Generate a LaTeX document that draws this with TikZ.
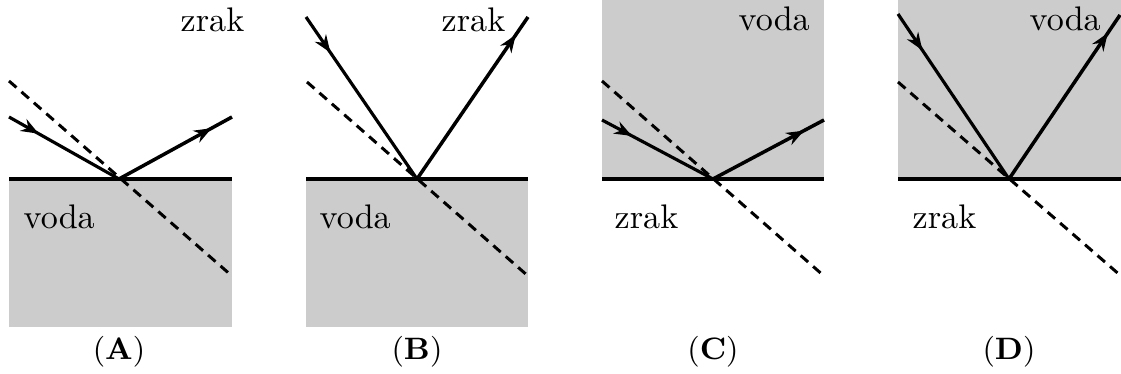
\documentclass[tikz,border=0pt]{standalone}
\usepackage{tikz}
\usetikzlibrary{arrows.meta,decorations.markings}
\definecolor{water}{HTML}{CCCCCC}
\definecolor{ink}{HTML}{000000}
\tikzset{
  medium/.style={fill=water,draw=none},
  surface/.style={draw=ink,line width=1.05pt},
  normalline/.style={draw=ink,line width=0.85pt,dash pattern=on 2.8pt off 1.9pt},
  inray/.style={draw=ink,line width=0.9pt,
    decoration={markings,mark=at position #1 with
      {\arrow{Stealth[length=5pt,width=3.8pt]}}},
    postaction={decorate}},
  inray/.default=0.27,
  outray/.style={draw=ink,line width=1pt,
    decoration={markings,mark=at position #1 with
      {\arrow{Stealth[length=5pt,width=3.8pt]}}},
    postaction={decorate}},
  outray/.default=0.85,
  medname/.style={font=\fontsize{9.7}{11}\selectfont,inner sep=0pt,
                  anchor=base west},
  panelcap/.style={font=\fontsize{8.8}{10}\selectfont,inner sep=0pt,anchor=base}
}

\begin{document}
\begin{tikzpicture}[x=0.01cm,y=-0.01cm]
    \useasboundingbox (0,0) rectangle (1121,374);
    % (A) air above, water below
    \fill[medium] (9,179) rectangle (232,327);
    \coordinate (Ao) at (119,179);
    \coordinate (Aleft) at (9,179);
    \coordinate (Aright) at (232,179);
    \coordinate (Ain) at (9,117);
    \coordinate (Aout) at (232,117);
    \coordinate (Ana) at (9,81);
    \coordinate (Anb) at (232,276);
    \draw[normalline] (Ana) -- (Anb);
    \draw[inray] (Ain) -- (Ao);
    \draw[outray=0.82] (Ao) -- (Aout);
    \draw[surface] (Aleft) -- (Aright);
    \node[medname] (Aair) at (180,32) {zrak};
    \node[medname] (Awater) at (23,229) {voda};
    \node[panelcap] (Acap) at (119,360) {(\textbf{A})};

    % (B) air above, water below, steep rays
    \fill[medium] (306,179) rectangle (528,327);
    \coordinate (Bo) at (417,179);
    \coordinate (Bleft) at (306,179);
    \coordinate (Bright) at (528,179);
    \coordinate (Bin) at (306,17);
    \coordinate (Bout) at (528,17);
    \coordinate (Bna) at (307,82);
    \coordinate (Bnb) at (528,276);
    \draw[normalline] (Bna) -- (Bnb);
    \draw[inray=0.22] (Bin) -- (Bo);
    \draw[outray=0.89] (Bo) -- (Bout);
    \draw[surface] (Bleft) -- (Bright);
    \node[medname] (Bair) at (441,32) {zrak};
    \node[medname] (Bwater) at (319,229) {voda};
    \node[panelcap] (Bcap) at (417,360) {(\textbf{B})};

    % (C) water above, air below
    \fill[medium] (602,0) rectangle (824,179);
    \coordinate (Co) at (713,179);
    \coordinate (Cleft) at (602,179);
    \coordinate (Cright) at (824,179);
    \coordinate (Cin) at (602,120);
    \coordinate (Cout) at (824,120);
    \coordinate (Cna) at (602,81);
    \coordinate (Cnb) at (824,276);
    \draw[normalline] (Cna) -- (Cnb);
    \draw[inray] (Cin) -- (Co);
    \draw[outray=0.82] (Co) -- (Cout);
    \draw[surface] (Cleft) -- (Cright);
    \node[medname] (Cwater) at (738,31) {voda};
    \node[medname] (Cair) at (614,229) {zrak};
    \node[panelcap] (Ccap) at (713,360) {(\textbf{C})};

    % (D) water above, air below, steep rays
    \fill[medium] (898,0) rectangle (1121,179);
    \coordinate (Do) at (1009,179);
    \coordinate (Dleft) at (898,179);
    \coordinate (Dright) at (1121,179);
    \coordinate (Din) at (898,14);
    \coordinate (Dout) at (1120,15);
    \coordinate (Dna) at (898,82);
    \coordinate (Dnb) at (1121,276);
    \draw[normalline] (Dna) -- (Dnb);
    \draw[inray=0.22] (Din) -- (Do);
    \draw[outray=0.89] (Do) -- (Dout);
    \draw[surface] (Dleft) -- (Dright);
    \node[medname] (Dwater) at (1029,31) {voda};
    \node[medname] (Dair) at (912,229) {zrak};
    \node[panelcap] (Dcap) at (1009,360) {(\textbf{D})};
  \end{tikzpicture}
\end{document}
